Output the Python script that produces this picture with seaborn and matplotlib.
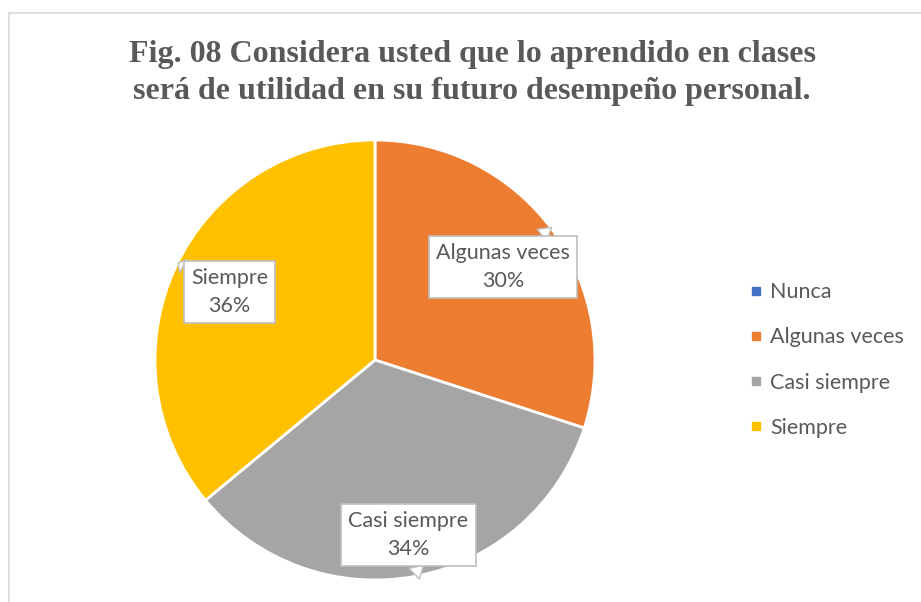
import numpy as np
import matplotlib
matplotlib.use("Agg")
import matplotlib.pyplot as plt
import seaborn as sns
from matplotlib.lines import Line2D
from matplotlib.patches import Rectangle

categories = ["Nunca", "Algunas veces", "Casi siempre", "Siempre"]
values = [0, 30, 34, 36]
pct_labels = ["0%", "30%", "34%", "36%"]
title = "Fig. 08 Considera usted que lo aprendido en clases\nserá de utilidad en su futuro desempeño personal."

sns.set_theme(style="white")
plt.rcParams["font.family"] = ["Lato", "DejaVu Sans"]
colors = sns.color_palette(["#4472C4", "#ED7D31", "#A5A5A5", "#FFC000"])
text_gray = "#595959"
box_gray = "#BFBFBF"

W, H = 921, 602
fig = plt.figure(figsize=(W / 100, H / 100), dpi=100)
fig.patch.set_facecolor("white")

# chart border
fig.add_artist(Rectangle((8.5 / W, -0.1), 1.2, 1 - 12.5 / H + 0.1, transform=fig.transFigure,
                         fill=False, edgecolor="#D9D9D9", linewidth=1.2))

cx, cy, r = 375, 360, 220
ax = fig.add_axes([(cx - r) / W, (H - cy - r) / H, 2 * r / W, 2 * r / H])
wedges, _ = ax.pie(values, colors=colors, startangle=90, counterclock=False, radius=1,
                   wedgeprops=dict(edgecolor="white", linewidth=2))
ax.set_xlim(-1, 1)
ax.set_ylim(-1, 1)
ax.set_aspect("equal")
ax.axis("off")

# label radius (fraction of pie radius) and callout pointer offsets
label_r = [0.0, 0.72, 0.81, 0.73]
pointer_off = [(0, 0), (0.22, 0.18), (0.05, -0.2), (-0.235, 0.13)]
for w, cat, pl, lr, po, v in zip(wedges, categories, pct_labels, label_r, pointer_off, values):
    if v == 0:
        continue
    th = np.deg2rad((w.theta1 + w.theta2) / 2)
    lx, ly = lr * np.cos(th), lr * np.sin(th)
    ax.annotate(f"{cat}\n{pl}", xy=(lx + po[0], ly + po[1]), xytext=(lx, ly),
                ha="center", va="center", fontsize=15.5, color=text_gray, linespacing=1.5,
                bbox=dict(boxstyle="square,pad=0.33", facecolor="white", edgecolor=box_gray,
                          linewidth=1.2),
                arrowprops=dict(arrowstyle="wedge,tail_width=0.7,shrink_factor=0.5",
                                facecolor="white", edgecolor=box_gray, linewidth=1.0,
                                shrinkA=0, shrinkB=0))

fig.text(472 / W, 1 - 73 / H, title, ha="center", va="center", fontsize=23, fontweight="bold",
         color=text_gray, family=["Liberation Serif", "DejaVu Serif"], linespacing=1.38)

handles = [Line2D([0], [0], marker="s", linestyle="none", markersize=5.5, markerfacecolor=c,
                  markeredgecolor=c) for c in colors]
fig.legend(handles, categories, loc="center left", bbox_to_anchor=(726 / W, 1 - 360 / H),
           frameon=False, fontsize=15.5, labelcolor=text_gray, handletextpad=0.15,
           labelspacing=1.17, handlelength=1.0)

fig.savefig("out.png", dpi=100, facecolor="white")
